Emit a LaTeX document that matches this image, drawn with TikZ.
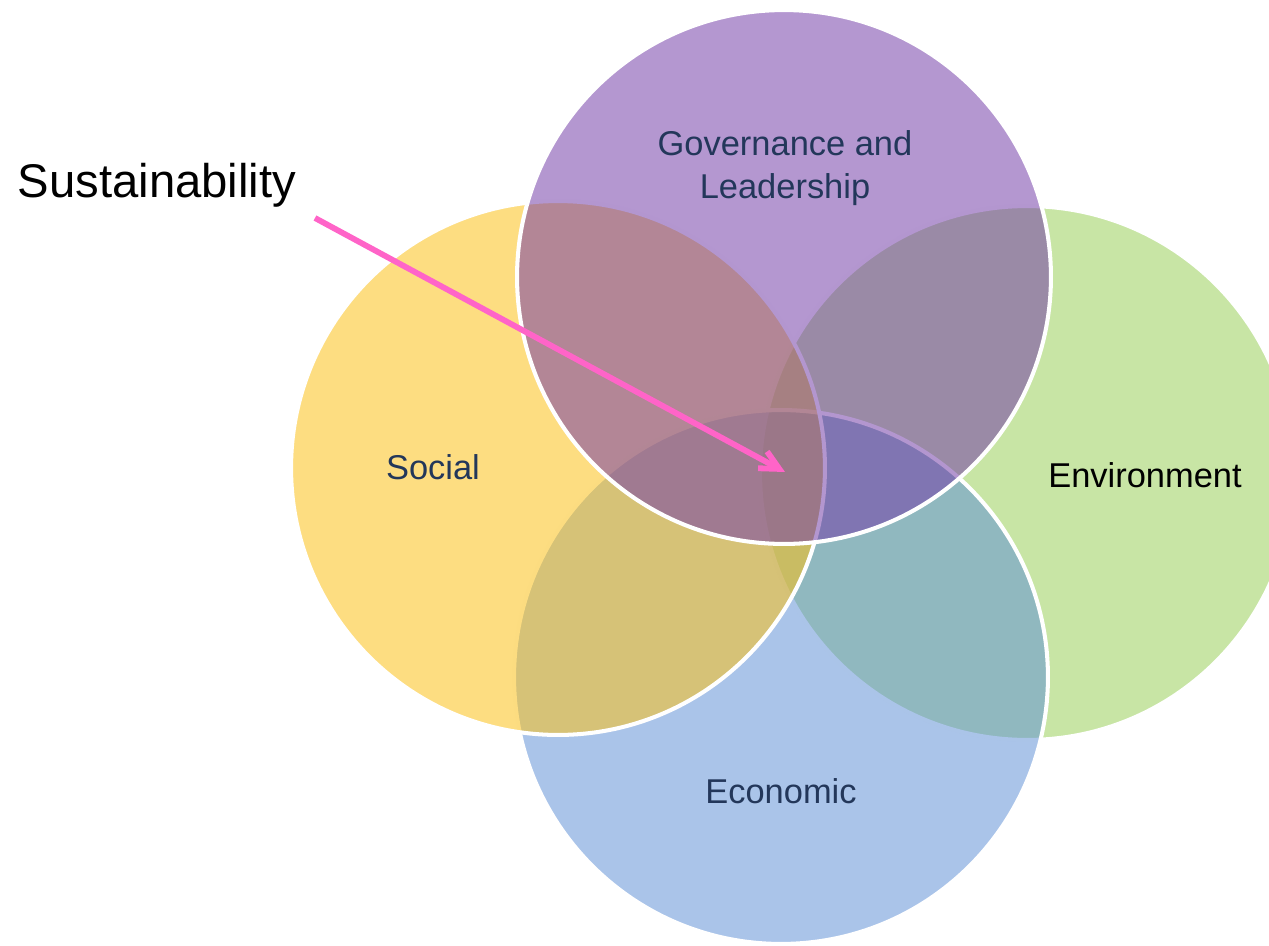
\documentclass[tikz,border=0pt]{standalone}
\usepackage{fontspec}
\setmainfont{Liberation Sans}
\usetikzlibrary{arrows.meta}
\definecolor{socialc}{RGB}{251,192,22}
\definecolor{govc}{RGB}{116,62,168}
\definecolor{econc}{RGB}{98,146,214}
\definecolor{envc}{RGB}{200,229,165}
\definecolor{labelc}{RGB}{35,55,90}
\definecolor{arrowc}{RGB}{255,100,200}
\begin{document}
\begin{tikzpicture}[x=0.02cm,y=-0.02cm,
  venn/.style={circle, inner sep=0pt, outer sep=0pt, minimum size=10.68cm, draw=white, line width=2.3pt, fill opacity=0.54},
  lab/.style={font=\fontsize{19.6}{24.5}\selectfont, text=labelc, align=center},
  pointer/.style={arrowc, line width=3.3pt, -{Straight Barb[length=0.38cm, width=0.38cm]}}]
\useasboundingbox (0,0) rectangle (1269,946);
\begin{scope}
\clip (0,0) rectangle (1269,946);
\node[venn, fill=envc, fill opacity=1] (env) at (1027,473) {};
\node[venn, fill=econc] (econ) at (781,677) {};
\node[venn, fill=socialc] (soc) at (558,468) {};
\node[venn, fill=govc] (gov) at (784,277) {};
\end{scope}
\node[lab] (govlab) at (785,168) {Governance and\\Leadership};
\node[lab] (soclab) at (433,467) {Social};
\node[lab] (econlab) at (781,791) {Economic};
\node[lab, text=black] (envlab) at (1145,475) {Environment};
\node[font=\fontsize{26.9}{32}\selectfont] (sust) at (157,185) {Sustainability};
\coordinate (arrowstart) at (315,218);
\coordinate (arrowtip) at (785,472);
\draw[pointer] (arrowstart) -- (arrowtip);
\end{tikzpicture}
\end{document}
